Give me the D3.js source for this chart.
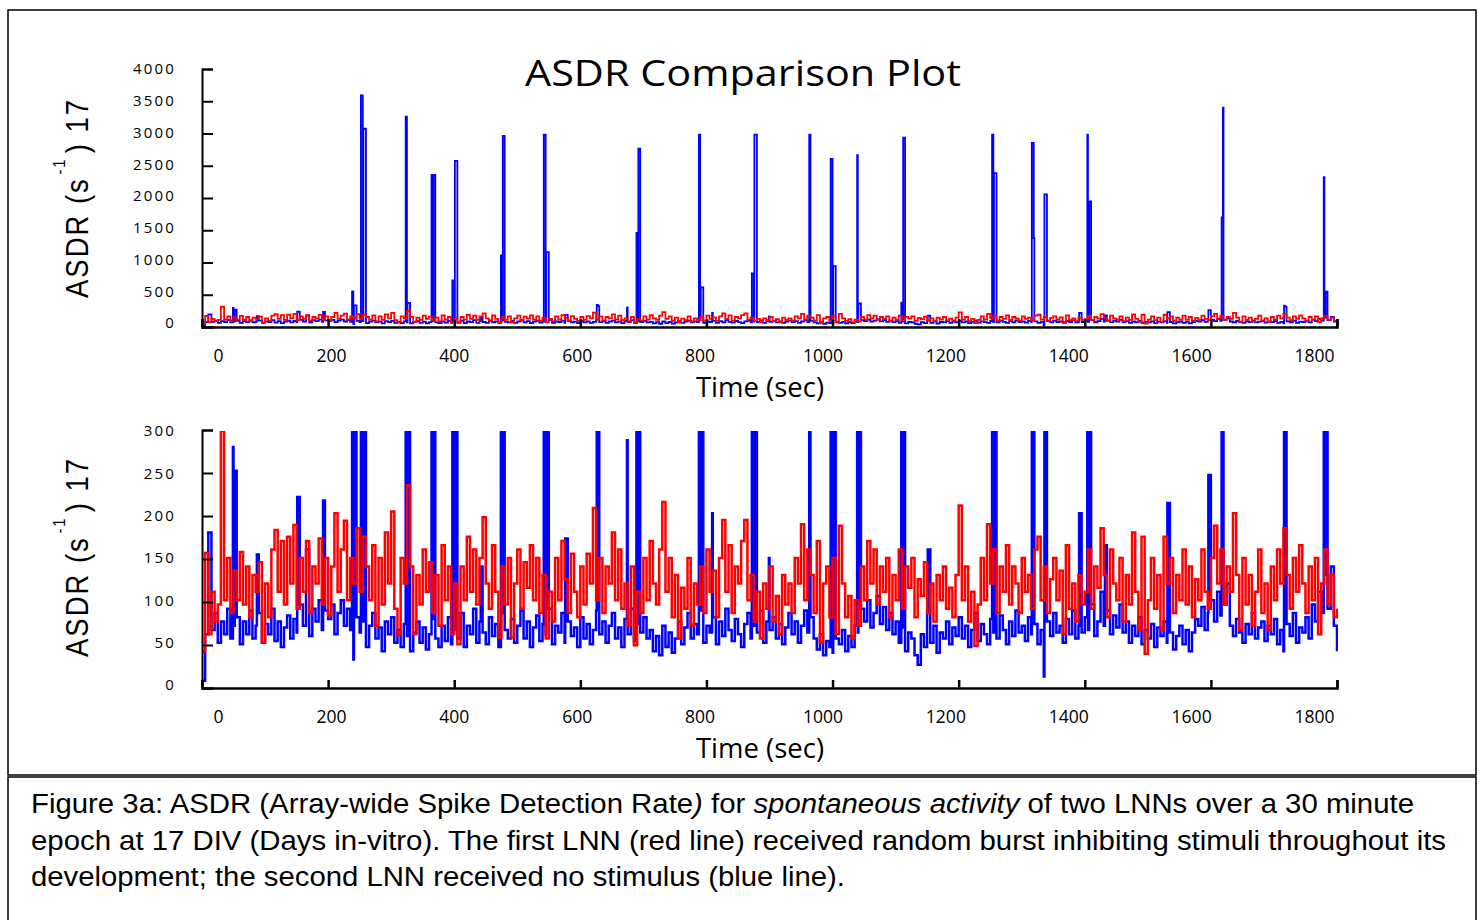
<!DOCTYPE html>
<html>
<head>
<meta charset="utf-8">
<script src="https://cdn.jsdelivr.net/npm/d3@7"></script>
<style>
  body { margin: 0; background: #fff; }
  svg text { fill: #000; }
</style>
</head>
<body>
<svg id="chart" width="1483" height="920"></svg>
<script>
// one sample every 5 seconds, 0..1800 s
const stepSec = 5;

// LNN with random burst-inhibiting stimuli (red)
const redASDR = [
  40,156,60,110,75,95,300,100,150,85,135,100,157,95,140,80,130,110,145,50,
  120,80,160,183,110,170,95,175,120,189,90,150,110,170,85,140,120,173,95,150,
  82,140,203,110,160,194,100,150,120,185,110,175,140,100,165,70,150,95,180,120,
  205,90,59,150,120,236,140,60,130,95,160,110,145,85,130,70,165,100,140,60,
  120,48,140,100,175,110,160,95,150,198,120,90,165,110,56,140,95,150,56,120,
  160,90,145,115,165,100,150,85,130,55,110,75,150,100,170,125,85,155,110,80,
  140,95,155,120,209,100,150,85,140,120,180,100,160,90,120,70,140,47,110,85,
  150,100,170,120,95,160,216,110,150,80,130,55,115,90,150,70,120,95,140,85,
  160,110,135,80,150,195,110,165,85,140,120,170,195,100,130,75,110,55,120,90,
  140,75,105,60,130,95,120,85,150,120,190,100,160,130,85,170,50,120,140,80,
  150,60,188,120,80,105,55,100,70,140,100,170,120,160,95,140,110,150,80,130,
  100,160,90,140,115,150,80,125,105,145,85,120,75,130,100,140,90,115,80,130,
  212,100,140,75,110,46,95,150,100,190,120,160,85,140,110,165,95,140,120,85,
  150,110,130,90,160,175,100,140,85,125,150,100,135,60,165,90,120,75,130,95,
  110,160,90,140,115,185,130,80,160,120,100,150,75,130,95,180,110,65,175,37,
  100,150,90,130,65,175,120,150,85,130,100,160,95,140,80,125,100,160,110,90,
  150,188,120,160,95,140,110,203,130,65,150,95,130,70,110,160,85,120,65,140,
  100,160,120,185,130,90,150,110,165,120,85,140,100,150,60,120,160,95,130,80,
  90
];

// LNN without stimulus (blue), background level
const blueASDR = [
  5,60,180,65,85,50,75,60,90,55,70,80,48,75,60,88,55,70,85,50,
  72,60,90,52,75,45,68,82,55,78,62,95,70,85,58,90,75,100,65,88,
  78,95,60,85,100,70,90,65,30,80,62,75,45,70,85,55,68,40,75,60,
  80,50,65,45,72,58,40,62,75,50,68,42,60,78,55,45,70,52,80,48,
  65,55,85,45,70,60,90,50,75,62,48,80,58,72,45,85,65,55,78,50,
  70,88,55,75,45,68,82,52,72,60,90,48,70,62,85,50,75,58,68,45,
  80,55,72,48,65,88,60,75,50,70,85,55,68,45,78,60,90,52,72,62,
  80,55,65,40,58,35,70,45,62,38,55,75,48,68,85,55,72,60,88,50,
  70,62,80,48,75,58,90,65,52,78,60,45,72,85,55,70,62,88,50,75,
  65,80,55,72,48,68,85,60,75,50,70,88,62,80,55,42,60,35,52,45,
  38,55,48,65,40,58,45,70,62,90,75,100,68,85,105,72,92,65,85,60,
  75,50,68,40,62,55,35,24,60,45,85,50,70,38,62,55,75,48,68,58,
  80,55,70,45,65,85,52,72,60,48,78,62,55,82,65,48,75,58,88,62,
  70,52,80,60,72,48,65,10,75,58,85,62,70,50,78,60,88,55,70,62,
  80,65,95,58,75,110,70,88,60,82,68,95,62,75,50,70,58,80,48,65,
  55,72,45,68,58,75,50,62,42,58,70,48,65,40,62,78,70,92,65,85,
  100,75,110,82,95,120,70,58,78,62,50,72,60,85,55,68,75,52,70,60,
  78,48,65,40,72,58,85,50,68,62,80,55,95,75,110,85,130,90,140,70,
  40
];

// burst events of the blue LNN (seconds, ASDR)
const burstTimes  = [49, 52, 87, 151, 165, 192, 238, 241, 252, 256, 323, 326, 364, 367, 397, 401,
  442, 474, 477, 542, 546, 576, 626, 628, 674, 689, 692, 788, 791, 809, 872, 876, 899, 963,
  997, 1001, 1039, 1041, 1109, 1112, 1151, 1253, 1256, 1316, 1319, 1336, 1391, 1404, 1407,
  1432, 1531, 1596, 1617, 1619, 1716, 1717, 1779, 1782];
const burstValues = [281, 253, 154, 222, 160, 218, 540, 320, 3590, 3070, 3260, 360, 2350, 2350, 710, 2570,
  140, 1100, 2960, 2980, 1150, 173, 330, 310, 289, 1450, 2760, 2980, 600, 203, 820, 2980, 150, 2980,
  2600, 930, 2660, 350, 362, 2930, 160, 2980, 2380, 2850, 1370, 2050, 203, 2980, 1940,
  165, 215, 248, 1690, 3400, 315, 300, 2315, 535];

const timeTicks = [0, 200, 400, 600, 800, 1000, 1200, 1400, 1600, 1800];
const topTicks = [0, 500, 1000, 1500, 2000, 2500, 3000, 3500, 4000];
const bottomTicks = [0, 50, 100, 150, 200, 250, 300];

const redPoints = redASDR.map((v, i) => ({t: i * stepSec, v: v}));
const bluePoints = blueASDR.map((v, i) => ({t: i * stepSec, v: v}))
  .concat(burstTimes.map((t, i) => ({t: t, v: burstValues[i]})))
  .sort((a, b) => a.t - b.t);

const svg = d3.select('#chart');

// frames
svg.append('rect')
  .attr('x', 8).attr('y', 10).attr('width', 1468).attr('height', 765)
  .attr('fill', 'none').attr('stroke', '#000').attr('stroke-width', 1.5);
svg.append('rect')
  .attr('x', 8).attr('y', 777).attr('width', 1468).attr('height', 160)
  .attr('fill', 'none').attr('stroke', '#000').attr('stroke-width', 1.5);

const x = d3.scaleLinear().domain([0, 1800]).range([202, 1337]);
const xLabel = d3.scaleLinear().domain([0, 200, 1800]).range([218, 331, 1314]);

function drawPanel(p) {
  const g = svg.append('g');

  if (p.clip) {
    svg.append('clipPath').attr('id', p.clip)
      .append('rect')
      .attr('x', 202).attr('y', p.yData.range()[1])
      .attr('width', 1136).attr('height', p.axisY - p.yData.range()[1]);
  }

  // stair-style trace like the recorder output
  const line = d3.line()
    .x(d => x(d.t))
    .y(d => p.yData(d.v))
    .curve(d3.curveStepAfter);

  const plot = g.append('g');
  if (p.clip) plot.attr('clip-path', `url(#${p.clip})`);

  plot.append('path')
    .attr('d', line(bluePoints))
    .attr('fill', 'none').attr('stroke', '#0000ff').attr('stroke-width', p.lw);
  plot.append('path')
    .attr('d', line(redPoints))
    .attr('fill', 'none').attr('stroke', '#ff0000').attr('stroke-width', p.lw);

  // y axis ticks (inward)
  g.append('g')
    .attr('transform', 'translate(202,0)')
    .call(d3.axisLeft(p.yTick).tickValues(p.ticks).tickSize(-11).tickFormat(''))
    .call(a => a.selectAll('path,line').attr('stroke', '#000').attr('stroke-width', 2));

  // y tick labels
  g.append('g')
    .attr('transform', 'translate(202,0)')
    .call(d3.axisLeft(p.yLabel).tickValues(p.ticks).tickSize(0).tickPadding(26).tickFormat(d3.format('d')))
    .call(a => a.select('.domain').remove())
    .call(a => a.selectAll('text')
      .attr('font-family', 'Open Sans').attr('font-size', 15)
      .attr('letter-spacing', 2.2).attr('fill', '#000'));

  // x axis ticks (inward)
  g.append('g')
    .attr('transform', `translate(0,${p.axisY})`)
    .call(d3.axisBottom(x).tickValues(timeTicks).tickSize(-8).tickFormat(''))
    .call(a => a.selectAll('path,line').attr('stroke', '#000').attr('stroke-width', 2.5));

  // x tick labels
  g.append('g')
    .attr('transform', `translate(0,${p.axisY})`)
    .call(d3.axisBottom(xLabel).tickValues(timeTicks).tickSize(0).tickPadding(23).tickFormat(d3.format('d')))
    .call(a => a.select('.domain').remove())
    .call(a => a.selectAll('text')
      .attr('font-family', 'Open Sans').attr('font-size', 17.5).attr('fill', '#000'));

  // x title
  g.append('text')
    .attr('x', 760).attr('y', p.axisY + 70)
    .attr('text-anchor', 'middle')
    .attr('font-family', 'Open Sans').attr('font-size', 27.5)
    .text('Time (sec)');

  // y title
  const yt = g.append('text')
    .attr('transform', `translate(88,${p.titleBottom}) rotate(-90) scale(0.86,1)`)
    .attr('font-family', 'Liberation Sans, Arial, sans-serif')
    .attr('font-size', 32).attr('letter-spacing', 2.3);
  yt.append('tspan').text('ASDR (s');
  yt.append('tspan').attr('font-size', 17).attr('dy', -23).attr('dx', 3).text('-1');
  yt.append('tspan').attr('dy', 23).attr('dx', 5).text(') 17');
}

drawPanel({
  yData: d3.scaleLinear().domain([0, 4000]).range([326, 69]),
  yTick: d3.scaleLinear().domain([0, 4000]).range([327, 69]),
  yLabel: d3.scaleLinear().domain([0, 4000]).range([323, 69]),
  ticks: topTicks, axisY: 327, titleBottom: 298, lw: 1.8
});

drawPanel({
  yData: d3.scaleLinear().domain([0, 300]).range([685, 431]),
  yTick: d3.scaleLinear().domain([0, 300]).range([688, 430]),
  yLabel: d3.scaleLinear().domain([0, 300]).range([685, 431]),
  ticks: bottomTicks, axisY: 688, titleBottom: 657, lw: 2.5, clip: 'clipBottom'
});

// chart title
svg.append('text')
  .attr('x', 525).attr('y', 86)
  .attr('font-family', 'Open Sans').attr('font-size', 36)
  .attr('textLength', 436).attr('lengthAdjust', 'spacingAndGlyphs')
  .text('ASDR Comparison Plot');

// caption
const capFont = 'Liberation Sans, Arial, sans-serif';
const cap1 = svg.append('text').attr('x', 31).attr('y', 813)
  .attr('font-family', capFont).attr('font-size', 27.5)
  .attr('textLength', 1383).attr('lengthAdjust', 'spacingAndGlyphs');
cap1.append('tspan').text('Figure 3a: ASDR (Array-wide Spike Detection Rate');
cap1.append('tspan').attr('font-style', 'italic').text(')');
cap1.append('tspan').text(' for ');
cap1.append('tspan').attr('font-style', 'italic').text('spontaneous activity');
cap1.append('tspan').text(' of two LNNs over a 30 minute');

svg.append('text').attr('x', 31).attr('y', 850)
  .attr('font-family', capFont).attr('font-size', 27.5)
  .attr('textLength', 1415).attr('lengthAdjust', 'spacingAndGlyphs')
  .text('epoch at 17 DIV (Days in-vitro). The first LNN (red line) received random burst inhibiting stimuli throughout its');

svg.append('text').attr('x', 31).attr('y', 886)
  .attr('font-family', capFont).attr('font-size', 27.5)
  .attr('textLength', 814).attr('lengthAdjust', 'spacingAndGlyphs')
  .text('development; the second LNN received no stimulus (blue line).');
</script>
</body>
</html>
